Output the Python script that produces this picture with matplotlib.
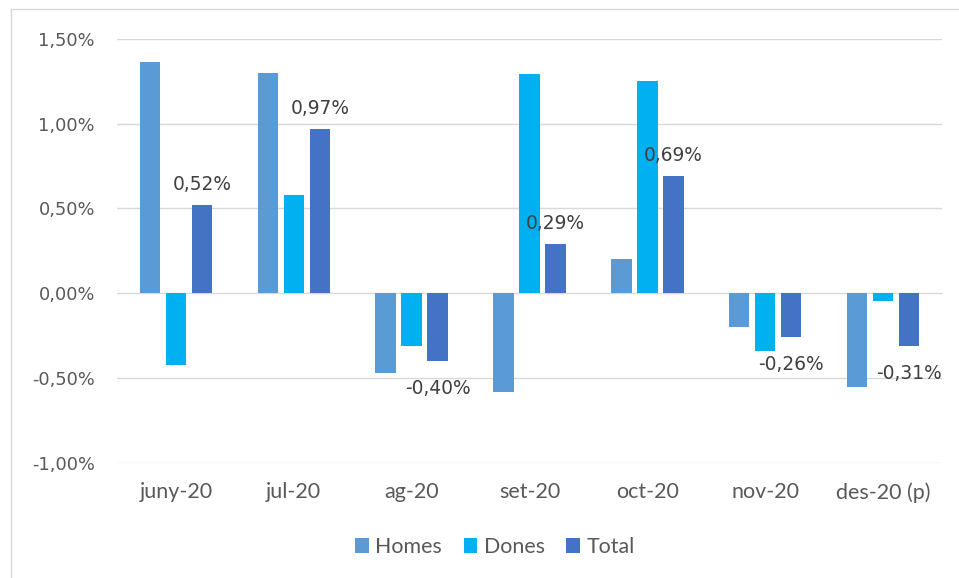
import numpy as np
import matplotlib.pyplot as plt
from matplotlib.lines import Line2D
from matplotlib.ticker import FuncFormatter

months = ['juny-20', 'jul-20', 'ag-20', 'set-20', 'oct-20', 'nov-20', 'des-20 (p)']
homes = [1.36, 1.30, -0.47, -0.58, 0.20, -0.20, -0.55]
dones = [-0.42, 0.58, -0.31, 1.29, 1.25, -0.34, -0.045]
total = [0.52, 0.97, -0.40, 0.29, 0.69, -0.26, -0.31]

c_homes = '#5B9BD5'
c_dones = '#00B0F0'
c_total = '#4472C4'
grid_c = '#D9D9D9'
tick_c = '#595959'
lab_c = '#404040'

fig = plt.figure(figsize=(9.59, 5.78), dpi=100)
ax = fig.add_axes([117/959, 1 - 463/578, 825/959, (463 - 38.7)/578])

x = np.arange(len(months))
w = 0.173
step = 0.221
ax.bar(x - step, homes, w, color=c_homes, label='Homes', zorder=3)
ax.bar(x, dones, w, color=c_dones, label='Dones', zorder=3)
ax.bar(x + step, total, w, color=c_total, label='Total', zorder=3)

# etiquetes només per al total
for xi, v in zip(x, total):
    txt = ('%.2f%%' % v).replace('.', ',')
    off = 10.6 if v >= 0 else -23.5
    ax.annotate(txt, (xi + step, v), xytext=(0, off), textcoords='offset points',
                ha='center', va='baseline', fontsize=13.4, color=lab_c,
                family='DejaVu Sans', zorder=4)

ax.set_xlim(-0.5, len(months) - 0.5)
ax.set_ylim(-1.0, 1.5)
ax.set_yticks([-1.0, -0.5, 0.0, 0.5, 1.0, 1.5])
ax.yaxis.set_major_formatter(FuncFormatter(lambda v, p: ('%.2f%%' % v).replace('.', ',')))
ax.set_xticks(x)
ax.set_xticklabels(months)
ax.grid(axis='y', color=grid_c, linewidth=1.0, zorder=0)
ax.set_axisbelow(True)
for s in ax.spines.values():
    s.set_visible(False)
ax.tick_params(axis='y', length=0, pad=16, labelsize=12.8, labelcolor=tick_c)
ax.tick_params(axis='x', length=0, pad=14, labelsize=15.5, labelcolor=tick_c)
for t in ax.get_yticklabels():
    t.set_family('DejaVu Sans')
for t in ax.get_xticklabels():
    t.set_family('Lato')

leg = fig.legend(loc='center', bbox_to_anchor=(495/959, 1 - 547/578), ncol=3, frameon=False,
                 handlelength=0.65, handleheight=0.65, handletextpad=0.3, columnspacing=1.0,
                 prop={'family': 'Lato', 'size': 15.4})
for t in leg.get_texts():
    t.set_color(tick_c)

# vora del gràfic (retallada)
fig.add_artist(Line2D([11/959, 11/959], [0, 1 - 9/578], color=grid_c, linewidth=1.0))
fig.add_artist(Line2D([11/959, 1], [1 - 9/578, 1 - 9/578], color=grid_c, linewidth=1.0))

fig.savefig('out.png', dpi=100)
